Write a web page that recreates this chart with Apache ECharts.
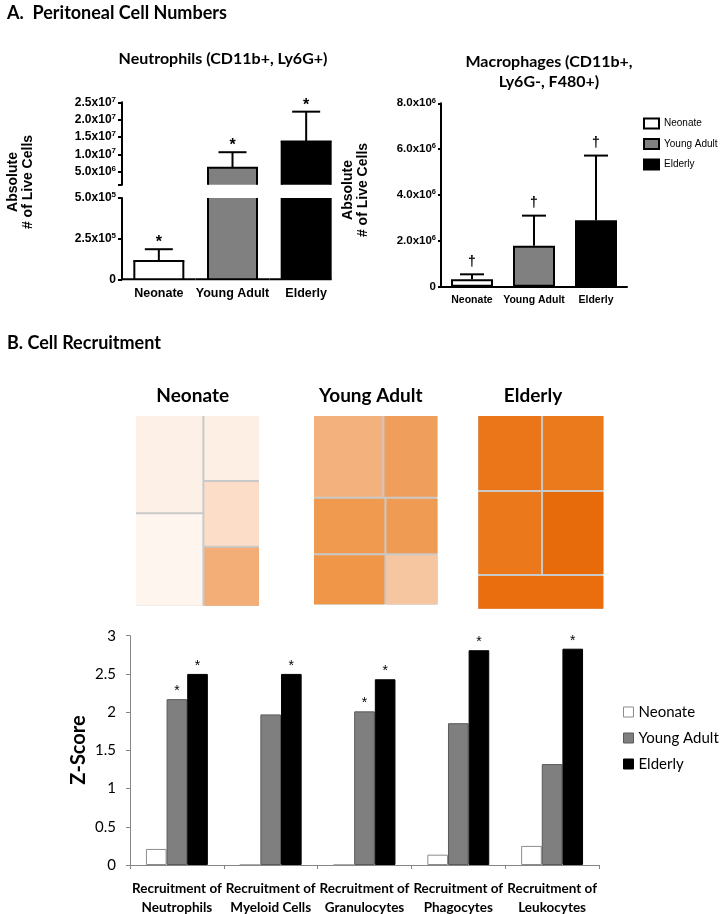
<!DOCTYPE html>
<html>
<head>
<meta charset="utf-8">
<title>Peritoneal Cell Numbers and Cell Recruitment</title>
<script src="https://cdn.jsdelivr.net/npm/echarts@6/dist/echarts.min.js"></script>
<style>
html,body{margin:0;padding:0;background:#fff;}
#chart{width:722px;height:914px;}
</style>
</head>
<body>
<div id="chart"></div>
<script>
// ---------------- data ----------------
const groups = ['Neonate', 'Young Adult', 'Elderly'];

// A. Neutrophils (CD11b+, Ly6G+) : mean and upper error
const neutroMean = [1.13e5, 6.15e6, 1.37e7];
const neutroErr = [7.2e4, 4.45e6, 8.6e6];
const neutroUpperTicks = [5e6, 1e7, 1.5e7, 2e7, 2.5e7];
const neutroMark = '*';

// A. Macrophages (CD11b+, Ly6G-, F480+)
const macroMean = [3.2e5, 1.79e6, 2.9e6];
const macroErr = [2.2e5, 1.31e6, 2.82e6];
const macroMark = '\u2020';

// B. Cell recruitment Z-scores
const recruitCats = [
  'Recruitment of\nNeutrophils',
  'Recruitment of\nMyeloid Cells',
  'Recruitment of\nGranulocytes',
  'Recruitment of\nPhagocytes',
  'Recruitment of\nLeukocytes'
];
const zNeonate = [0.21, 0, 0, 0.135, 0.25];
const zYoung = [2.17, 1.97, 2.01, 1.855, 1.32];
const zElderly = [2.5, 2.5, 2.43, 2.81, 2.83];
const sigNeonate = [0, 0, 0, 0, 0];
const sigYoung = [1, 0, 1, 0, 0];
const sigElderly = [1, 1, 1, 1, 1];
const zMark = '*';

// B. Treemap cell sizes (nested groups)
const tmNeonate = [[6.55, 6.22], [3.64, 3.62, 3.31]];
const tmYoung = [[5.68, 4.43], [[3.97, 3.61], [2.90, 2.63]]];
const tmElderly = [[[4.80, 4.62], [5.29, 5.09]], 4.30];

// ---------------- styles ----------------
const ARIAL = '"Liberation Sans", Arial, sans-serif';
const LATO = 'Lato, "Open Sans", sans-serif';
const groupColors = ['#ffffff', '#808080', '#000000'];
const zColors = ['#ffffff', '#7f7f7f', '#000000'];
const zBorders = ['#8c8c8c', '#595959', '#000000'];
const tmNeonateColors = [['#fdf1e7', '#fef5ef'], ['#fdefe4', '#fcdec8', '#f3ad77']];
const tmYoungColors = [['#f3b17e', '#f09e5c'], [['#f09a50', '#f09649'], ['#f09b53', '#f6c6a0']]];
const tmElderlyColors = [[['#eb7619', '#eb7a1d'], ['#eb781a', '#e86b0b']], '#ea6d0e'];

const NBW = 49;   // neutrophil bar width
const MBW = 42;   // macrophage bar width

function expLabel(v) {
  if (v === 0) return '{m|0}';
  const e = Math.floor(Math.log10(v) + 1e-9);
  const m = v / Math.pow(10, e);
  return '{m|' + m.toFixed(1) + 'x10}{e|' + e + '}';
}
function rich(size, sup) {
  return {
    m: {fontFamily: ARIAL, fontWeight: 'bold', fontSize: size, lineHeight: size + 2, color: '#000'},
    e: {fontFamily: ARIAL, fontWeight: 'bold', fontSize: sup, lineHeight: sup, verticalAlign: 'top', color: '#000'}
  };
}
function txt(text, x, y, font, align, rot, lh) {
  const el = {
    type: 'text', x: x, y: y, silent: true,
    style: {text: text, font: font, fill: '#000', align: align, verticalAlign: 'middle',
            textAlign: align, textVerticalAlign: 'middle'}
  };
  if (lh) el.style.lineHeight = lh;
  if (rot) el.rotation = rot;
  return el;
}

// bars with broken axis (drawn with the axis scales)
function brokenRender(isLower) {
  return function (params, api) {
    const i = api.value(0), m = api.value(1), e = api.value(2);
    const cs = params.coordSys;
    const top = cs.y, bot = cs.y + cs.height;
    const p = api.coord([i, m]);
    const b = api.coord([i, 0]);
    const c = api.coord([i, m + e]);
    const clamp = y => Math.min(bot, Math.max(top, y));
    const x0 = p[0] - NBW / 2, x1 = p[0] + NBW / 2;
    const yT = clamp(p[1]), yB = clamp(b[1]);
    const st = {stroke: '#000', lineWidth: 2};
    const kids = [];
    if (yB - yT > 0.5) {
      kids.push({type: 'rect', shape: {x: x0, y: yT, width: NBW, height: yB - yT}, style: {fill: groupColors[i]}});
      kids.push({type: 'line', shape: {x1: x0, y1: yB, x2: x0, y2: yT}, style: st});
      kids.push({type: 'line', shape: {x1: x1, y1: yB, x2: x1, y2: yT}, style: st});
      if (p[1] >= top && p[1] <= bot) {
        kids.push({type: 'line', shape: {x1: x0 - 1, y1: yT, x2: x1 + 1, y2: yT}, style: st});
        kids.push({type: 'line', shape: {x1: p[0], y1: p[1], x2: p[0], y2: c[1]}, style: st});
        kids.push({type: 'line', shape: {x1: p[0] - 14, y1: c[1], x2: p[0] + 14, y2: c[1]}, style: st});
        kids.push(txt(neutroMark, p[0], c[1] - 6.5, 'bold 16px ' + ARIAL, 'center'));
      }
    }
    if (isLower) {
      const band = api.size([1, 0])[0];
      const xs = p[0] - band / 2 - (i === 0 ? 1 : 0);
      const xe = i === groups.length - 1 ? x1 + 1 : p[0] + band / 2;
      kids.push({type: 'line', shape: {x1: xs, y1: bot, x2: xe, y2: bot}, style: st});
    }
    return {type: 'group', children: kids};
  };
}

function errRender(params, api) {
  const i = api.value(0), m = api.value(1), e = api.value(2);
  const p = api.coord([i, m]);
  const c = api.coord([i, m + e]);
  const st = {stroke: '#000', lineWidth: 2};
  return {type: 'group', children: [
    {type: 'line', shape: {x1: p[0], y1: p[1], x2: p[0], y2: c[1]}, style: st},
    {type: 'line', shape: {x1: p[0] - 12, y1: c[1], x2: p[0] + 12, y2: c[1]}, style: st},
    txt(macroMark, p[0], c[1] - 12, 'bold 14px ' + ARIAL, 'center')
  ]};
}

function tmBuild(vals, cols) {
  return vals.map((v, k) => Array.isArray(v)
    ? {name: '', children: tmBuild(v, cols[k])}
    : {name: '', value: v, itemStyle: {color: cols[k]}});
}
function treemap(box, vals, cols, ratio) {
  return Object.assign({
    type: 'treemap', silent: true, roam: false, nodeClick: false,
    squareRatio: ratio, sort: false,
    breadcrumb: {show: false}, label: {show: false}, upperLabel: {show: false},
    itemStyle: {borderWidth: 0, gapWidth: 2, borderColor: '#c9c9c9'},
    data: tmBuild(vals, cols)
  }, box);
}

const zData = [zNeonate, zYoung, zElderly];
const zSig = [sigNeonate, sigYoung, sigElderly];
const tick = {fontFamily: ARIAL, fontWeight: 'bold', color: '#000', interval: 0};

const option = {
  animation: false,
  textStyle: {fontFamily: ARIAL},
  grid: [
    {left: 122, top: 102.3, width: 221, height: 82.5, outerBoundsMode: 'none'},
    {left: 122, top: 198, width: 221, height: 81.3, outerBoundsMode: 'none'},
    {left: 441, top: 103.3, width: 186, height: 183.4, outerBoundsMode: 'none'},
    {left: 130, top: 635.7, width: 469, height: 229.3, outerBoundsMode: 'none'}
  ],
  xAxis: [
    {gridIndex: 0, type: 'category', data: groups, show: false},
    {gridIndex: 1, type: 'category', data: groups, axisLine: {show: false}, axisTick: {show: false},
     axisLabel: Object.assign({fontSize: 12.5, margin: 8}, tick)},
    {gridIndex: 2, type: 'category', data: groups, axisLine: {lineStyle: {color: '#000', width: 2}},
     axisTick: {show: false}, axisLabel: Object.assign({fontSize: 10.5, margin: 8}, tick)},
    {gridIndex: 3, type: 'category', data: recruitCats,
     axisLine: {lineStyle: {color: '#868686', width: 1}},
     axisTick: {show: true, length: 4, lineStyle: {color: '#868686'}},
     axisLabel: {interval: 0, fontFamily: LATO, fontWeight: 'bold', fontSize: 13.5, lineHeight: 19, color: '#000', margin: 14}}
  ],
  yAxis: [
    {gridIndex: 0, type: 'value', min: 1.2e6, max: 2.5e7, splitLine: {show: false},
     axisLine: {show: true, lineStyle: {color: '#000', width: 2}},
     axisTick: {show: true, length: 4, lineStyle: {color: '#000', width: 2}, customValues: [1.2e6].concat(neutroUpperTicks)},
     axisLabel: {customValues: neutroUpperTicks, formatter: expLabel, rich: rich(12, 8), margin: 6}},
    {gridIndex: 1, type: 'value', min: 0, max: 5e5, interval: 2.5e5, splitLine: {show: false},
     axisLine: {show: true, lineStyle: {color: '#000', width: 2}},
     axisTick: {show: true, length: 4, lineStyle: {color: '#000', width: 2}},
     axisLabel: {formatter: expLabel, rich: rich(12, 8), margin: 6}},
    {gridIndex: 2, type: 'value', min: 0, max: 8e6, interval: 2e6, splitLine: {show: false},
     axisLine: {show: true, lineStyle: {color: '#000', width: 2}},
     axisTick: {show: true, length: 3, lineStyle: {color: '#000', width: 2}},
     axisLabel: {formatter: expLabel, rich: rich(11.5, 7.5), margin: 5}},
    {gridIndex: 3, type: 'value', min: 0, max: 3, interval: 0.5, splitLine: {show: false},
     axisLine: {show: true, lineStyle: {color: '#868686', width: 1}},
     axisTick: {show: true, length: 4, lineStyle: {color: '#868686'}},
     axisLabel: {fontFamily: LATO, fontSize: 15, color: '#000', margin: 14}}
  ],
  legend: [
    {orient: 'vertical', left: 638, top: 112, itemWidth: 15, itemHeight: 10, itemGap: 7.5,
     selectedMode: false, icon: 'rect', data: groups,
     textStyle: {fontFamily: ARIAL, fontSize: 10, lineHeight: 13, color: '#000'}},
    {orient: 'vertical', left: 618, top: 699, itemWidth: 10, itemHeight: 10, itemGap: 10,
     selectedMode: false, icon: 'rect',
     data: groups.map((g, i) => ({name: g, itemStyle: {color: zColors[i], borderColor: zBorders[i], borderWidth: 1}})),
     textStyle: {fontFamily: LATO, fontSize: 15, lineHeight: 16, color: '#000'}}
  ],
  graphic: [
    txt('A.  Peritoneal Cell Numbers', 7, 13, 'bold 18px ' + LATO, 'left'),
    txt('B. Cell Recruitment', 7, 343, 'bold 18px ' + LATO, 'left'),
    txt('Neutrophils (CD11b+, Ly6G+)', 223, 59, 'bold 16px ' + LATO, 'center'),
    txt('Macrophages (CD11b+,\nLy6G-, F480+)', 549, 72, 'bold 16px ' + LATO, 'center', 0, 20),
    txt('Absolute\n# of Live Cells', 21, 182, 'bold 14px ' + ARIAL, 'center', Math.PI / 2, 15),
    txt('Absolute\n# of Live Cells', 356, 190, 'bold 14px ' + ARIAL, 'center', Math.PI / 2, 15),
    txt('Neonate', 192.7, 396, 'bold 19px ' + LATO, 'center'),
    txt('Young Adult', 370.8, 396, 'bold 19px ' + LATO, 'center'),
    txt('Elderly', 533, 396, 'bold 19px ' + LATO, 'center'),
    txt('Z-Score', 79, 750, 'bold 20px ' + LATO, 'center', Math.PI / 2)
  ],
  series: [].concat(
    groups.map((g, i) => ({
      name: g, type: 'bar', xAxisIndex: 2, yAxisIndex: 2, stack: 'macro', barWidth: MBW, silent: true,
      itemStyle: {color: groupColors[i], borderColor: '#000', borderWidth: 2},
      data: macroMean.map((v, j) => (j === i ? v : '-'))
    })),
    [{type: 'custom', xAxisIndex: 2, yAxisIndex: 2, silent: true, z: 5, renderItem: errRender,
      encode: {x: 0, y: 1}, data: macroMean.map((m, i) => [i, m, macroErr[i]])},
     {type: 'custom', xAxisIndex: 0, yAxisIndex: 0, silent: true, renderItem: brokenRender(false),
      encode: {x: 0, y: 1}, data: neutroMean.map((m, i) => [i, m, neutroErr[i]])},
     {type: 'custom', xAxisIndex: 1, yAxisIndex: 1, silent: true, renderItem: brokenRender(true),
      encode: {x: 0, y: 1}, data: neutroMean.map((m, i) => [i, m, neutroErr[i]])}],
    groups.map((g, i) => ({
      name: g, type: 'bar', xAxisIndex: 3, yAxisIndex: 3, barGap: '0%', barCategoryGap: '34%', silent: true,
      itemStyle: {color: zColors[i], borderColor: zBorders[i], borderWidth: 1},
      label: {show: true, position: 'top', distance: 1, fontFamily: ARIAL, fontSize: 14, color: '#000',
              formatter: p => (zSig[i][p.dataIndex] ? zMark : '')},
      data: zData[i]
    })),
    [treemap({left: 136, top: 416, width: 123, height: 189.7}, tmNeonate, tmNeonateColors, 2.0),
     treemap({left: 314, top: 416, width: 123.3, height: 188.3}, tmYoung, tmYoungColors, 0.3),
     treemap({left: 478.3, top: 416, width: 125, height: 192.7}, tmElderly, tmElderlyColors, 0.3)]
  )
};

const chart = echarts.init(document.getElementById('chart'), null, {renderer: 'canvas'});
chart.setOption(option);
</script>
</body>
</html>
